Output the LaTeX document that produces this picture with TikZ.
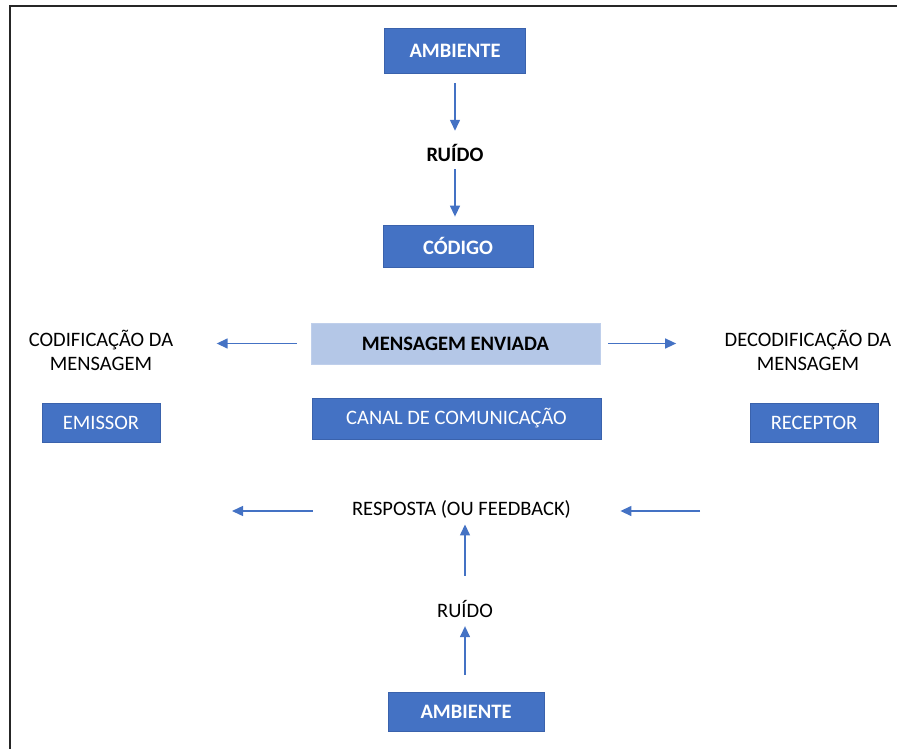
\documentclass[tikz,border=0pt]{standalone}
\usepackage{fontspec}
\setmainfont{Carlito}
\usetikzlibrary{arrows.meta,positioning}
\definecolor{boxblue}{HTML}{4472C4}
\definecolor{boxedge}{HTML}{3A62AC}
\definecolor{msgblue}{HTML}{B4C7E7}

\begin{document}
\begin{tikzpicture}[x=1pt, y=-1pt,
                    every node/.style={font=\fontsize{20.5}{24}\selectfont},
                    bluebox/.style={fill=boxblue, draw=boxedge, text=white,
                                    inner sep=0pt, line width=0.8pt},
                    boldtext/.style={font=\fontsize{20.5}{24}\selectfont\bfseries},
                    flow/.style={-{Triangle[length=11pt,width=10pt]},
                                 color=boxblue, line width=1.4pt}]
    \useasboundingbox (0,0) rectangle (897,749);
    % frame
    \draw[line width=1.4pt, black!85] (10,749) -- (10,6) -- (897,6);

    % top: ambiente -> ruido -> codigo
    \node[bluebox, boldtext, minimum width=141pt, minimum height=45pt] (amb_top)   at (455,50.5) {AMBIENTE};
    \node[boldtext]                                                    (ruido_top) at (455,153)  {RUÍDO};
    \node[bluebox, boldtext, minimum width=150pt, minimum height=42pt] (codigo)    at (458,246)  {CÓDIGO};

    % middle row
    \node[fill=msgblue, draw=msgblue!85!white, boldtext, inner sep=0pt,
          minimum width=289pt, minimum height=41pt]      (msg)   at (455.5,343.5) {MENSAGEM ENVIADA};
    \node[align=center]                                  (codif) at (101,350)     {CODIFICAÇÃO DA\\MENSAGEM};
    \node[align=center]                                  (decod) at (808,350)     {DECODIFICAÇÃO DA\\MENSAGEM};

    \node[bluebox, minimum width=118pt, minimum height=39pt] (emissor)  at (101,422.5)   {EMISSOR};
    \node[bluebox, minimum width=289pt, minimum height=41pt] (canal)    at (456.5,418.5) {CANAL DE COMUNICAÇÃO};
    \node[bluebox, minimum width=128pt, minimum height=39pt] (receptor) at (814,422.5)   {RECEPTOR};

    % bottom: feedback
    \node                                                         (resposta)  at (461.5,509) {RESPOSTA (OU FEEDBACK)};
    \node                                                         (ruido_bot) at (465,609)   {RUÍDO};
    \node[bluebox, boldtext, minimum width=156pt, minimum height=39pt] (amb_bot) at (466,711.5) {AMBIENTE};

    \coordinate (fb_left)  at (232,511);
    \coordinate (fb_right) at (700,511);

    % arrows (yshift is in page direction: + is up)
    \draw[flow] ([yshift=-10pt]amb_top.south)    -- ([yshift=10pt]ruido_top.north);
    \draw[flow] ([yshift=-4pt]ruido_top.south)   -- ([yshift=8pt]codigo.north -| ruido_top);
    \draw[flow] ([xshift=-14pt]msg.west)         -- ([xshift=40pt]codif.east |- msg);
    \draw[flow] ([xshift=8pt]msg.east)           -- ([xshift=-45pt]decod.west |- msg);
    \draw[flow] ([xshift=-36pt]resposta.west |- fb_left) -- (fb_left);
    \draw[flow] (fb_right) -- ([xshift=46pt]resposta.east |- fb_right);
    \draw[flow] ([yshift=17pt]amb_bot.north -| ruido_bot) -- ([yshift=-5pt]ruido_bot.south);
    \draw[flow] ([yshift=21pt]ruido_bot.north)   -- ([yshift=-3pt]ruido_bot.north |- resposta.south);
\end{tikzpicture}
\end{document}
